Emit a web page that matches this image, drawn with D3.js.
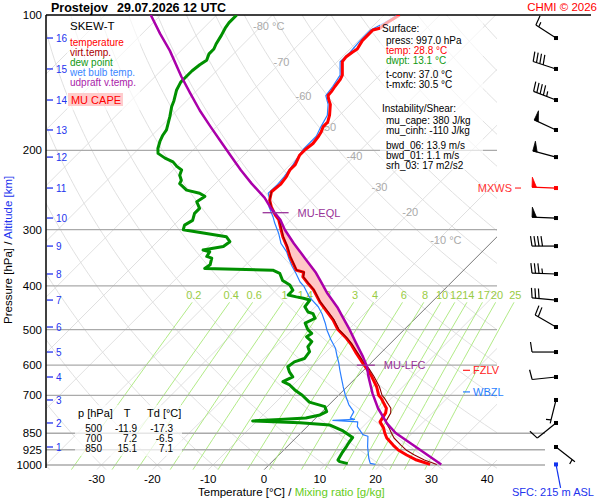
<!DOCTYPE html>
<html><head><meta charset="utf-8">
<script src="https://cdn.jsdelivr.net/npm/d3@7"></script>
<style>body{margin:0;background:#fff;} text{font-family:"Liberation Sans",Arial,Helvetica,sans-serif;}</style>
</head><body><svg id="c" width="600" height="500"></svg>
<script>
// ---------------- DATA ----------------
const stationName = "Prostejov";
const runTime = "29.07.2026 12 UTC";
const pressureTicks = [100,200,300,400,500,600,700,850,925,1000];
const tempTicks = [-30,-20,-10,0,10,20,30,40];
const mixRatios = [0.2,0.4,0.6,1,1.4,2,3,4,6,8,10,12,14,17,20,25];
const isoLabels = [[-80,106],[-70,127],[-60,151],[-50,177],[-40,206],[-30,241],[-20,274],[-10,316]];
const altKm = [1,2,3,4,5,6,7,8,9,10,11,12,13,14,15,16];
const altP  = [912,806.5,717,637.5,561,493.6,430,376.3,326.2,282.6,242.4,206.9,180.1,154.5,131.8,112.5];

const temperature = [[997,28.8],[975,25.6],[950,22.9],[926,20.5],[903,18.7],[871,16.3],[850,15.1],[827,13.9],[802,12.2],[766,11.6],[748,10.9],[711,8.2],[700,7.2],[670,5.3],[636,2.6],[610,0.2],[589,-1.9],[565,-4.3],[541,-6.7],[523,-8.8],[500,-11.9],[476,-14.5],[456,-17.1],[434,-20.1],[408,-23.4],[395,-25.5],[382,-27.6],[373,-28.3],[369,-30.0],[344,-33.6],[327,-35.9],[311,-38.4],[295,-40.7],[285,-42.2],[278,-43.7],[267,-45.8],[258,-47.3],[247,-48.5],[238,-48.2],[229,-48.5],[221,-49.1],[215,-49.1],[205,-50.0],[199,-50.0],[193,-49.7],[186,-50.0],[182,-50.3],[177,-50.9],[173,-50.9],[167,-51.8],[158,-53.6],[154,-54.8],[151,-55.6],[148,-55.7],[144,-56.0],[139,-56.3],[136,-56.7],[127,-59.1],[124,-59.3],[121,-59.0],[119,-58.7],[114,-59.3],[111,-59.3],[108,-59.3],[107,-58.4],[104,-58.1],[100,-57.2]];

const virtTemp = [[997,30.0],[975,27.0],[950,24.3],[926,21.9],[903,20.1],[871,17.6],[850,16.3],[827,14.9],[802,13.2],[766,12.5],[748,11.7],[711,8.8],[700,7.8],[670,5.8],[636,3.0],[610,0.6],[589,-1.6],[565,-4.0],[541,-6.5],[523,-8.6],[500,-11.7],[476,-14.3],[456,-16.9],[434,-20.0],[408,-23.3],[395,-25.4],[382,-27.5],[373,-28.2],[369,-29.9],[344,-33.5],[327,-35.8],[311,-38.3],[295,-40.6],[285,-42.1],[278,-43.6],[267,-45.8],[258,-47.3],[247,-48.5]];

const dewpoint = [[993,13.9],[983,12.1],[975,11.5],[936,10.9],[910,10.6],[889,10.3],[869,10.1],[840,7.2],[815,3.8],[806,-2.0],[798,-10.8],[792,-6.2],[786,-1.8],[774,0.2],[761,0.8],[742,-0.4],[736,-1.6],[725,-4.0],[700,-6.5],[681,-8.8],[664,-10.6],[653,-12.4],[637,-11.5],[621,-13.0],[605,-14.2],[590,-13.9],[580,-12.7],[560,-13.0],[546,-14.2],[532,-14.4],[519,-16.2],[510,-15.9],[500,-17.3],[484,-18.9],[472,-18.0],[461,-19.2],[457,-20.4],[445,-21.9],[430,-22.2],[426,-23.7],[423,-25.2],[419,-27.0],[409,-27.0],[398,-28.5],[389,-30.6],[375,-32.4],[369,-34.2],[366,-46.7],[359,-46.4],[347,-47.3],[344,-48.5],[336,-48.8],[333,-50.3],[330,-48.8],[327,-47.3],[319,-47.0],[311,-48.5],[300,-57.5],[293,-58.1],[286,-57.5],[276,-58.4],[269,-58.4],[260,-60.1],[253,-59.6],[249,-61.1],[245,-64.0],[237,-66.4],[233,-66.7],[227,-67.9],[221,-68.5],[217,-70.0],[212,-71.5],[208,-73.6],[203,-75.7],[198,-76.6],[191,-77.5],[185,-78.1],[180,-78.4],[168,-80.2],[160,-81.6],[155,-82.3],[147,-83.7],[141,-84.4],[137,-84.4],[133,-84.4],[129,-84.1],[126,-83.7],[122,-84.4],[119,-84.4],[116,-84.9],[111,-85.5],[107,-86.1],[104,-86.4],[100,-86.4]];

const wetBulb = [[997,19.0],[992,17.9],[966,16.7],[910,14.4],[863,12.6],[856,11.4],[822,9.0],[802,8.2],[796,3.5],[792,7.2],[787,6.2],[762,5.7],[734,3.5],[698,1.1],[670,-0.7],[642,-2.5],[615,-4.3],[594,-5.7],[574,-7.2],[550,-9.0],[527,-11.3],[501,-13.8],[484,-15.3],[461,-17.6],[445,-19.5],[423,-22.9],[401,-25.7],[392,-27.2],[375,-29.5],[362,-31.4],[347,-33.5],[336,-35.0],[322,-37.5],[306,-39.7],[290,-42.3],[281,-43.7],[267,-46.2],[256,-47.6],[249,-48.8],[238,-48.7],[229,-48.9],[215,-49.5],[199,-50.4],[186,-50.4],[177,-51.3],[167,-52.2],[158,-54.0],[151,-56.0],[144,-56.4],[136,-57.1],[127,-59.5],[121,-59.4],[114,-59.7],[108,-59.7],[104,-58.5],[100,-57.6]];

const parcel = [[997,30.8],[849,17.0],[808,13.7],[748,9.4],[694,5.8],[636,2.0],[605,0.0],[575,-2.5],[536,-6.2],[501,-9.7],[468,-13.4],[446,-16.0],[416,-20.2],[388,-24.0],[374,-26.0],[347,-30.6],[322,-35.2],[300,-39.3],[285,-41.9],[269,-45.6],[255,-48.6],[237,-53.5],[221,-57.9],[205,-62.4],[190,-66.9],[177,-71.1],[163,-75.9],[149,-80.8],[137,-85.3],[120,-92.0],[110,-96.8],[100,-101.8]];

const eqlLevel = [275,-44.0];
const lfcLevel = [600,-0.5];
const fzlvP = 616, wbzlP = 688;

const windP   = [997,912,806.5,717,637.5,561,493.6,430,376.3,326.2,282.6,242.4,206.9,180.1,154.5,131.8,112.5];
const windDir = [169,128,231,194,264,270,300,275,272,270,272,272,285,295,291,288,303];
const windSpd = [2,5,10,5,10,10,20,30,35,40,50,50,50,50,45,40,15];
const maxWindIndex = 11;

const tableP = [500,700,850], tableT = [-11.9,7.2,15.1], tableTd = [-17.3,-6.5,7.1];
const sfc = {press:997.0, temp:28.8, dwpt:13.1, tconv:37.0, tmxfc:30.5, cape:380, cinh:-110, bwd06:13.9, bwd01:1.1, srh03:17, elev:215};

// ---------------- SCALES ----------------
const svg = d3.select('#c');
const y = d3.scaleLog().domain([100,1000]).range([15,465]);
const t = d3.scaleLinear().domain([0,10]).range([264,319.8]);
const pBot = 1025, yBot = y(pBot);
const sx = (T,p) => t(T) + (yBot - y(p));
const FONT = '"Liberation Sans",Arial,Helvetica,sans-serif';

const defs = svg.append('defs');
defs.append('clipPath').attr('id','pc').append('rect').attr('x',46).attr('y',15).attr('width',451).attr('height',yBot-15);
defs.append('clipPath').attr('id','mc').append('rect').attr('x',46).attr('y',15).attr('width',530).attr('height',yBot-15);
defs.append('clipPath').attr('id','prc').append('rect').attr('x',46).attr('y',15).attr('width',500).attr('height',yBot-15);

svg.append('rect').attr('width',600).attr('height',500).attr('fill','#fff');

function txt(g,x,yy,s,o={}){
  return g.append('text').attr('x',x).attr('y',yy).text(s)
    .attr('font-size',o.size||11).attr('fill',o.color||'#000')
    .attr('text-anchor',o.anchor||'start').attr('font-weight',o.weight||'normal')
    .style('font-family',FONT);
}

// ---------------- GRID ----------------
const grid = svg.append('g').attr('clip-path','url(#pc)');
const logP = d3.range(0,101).map(i => Math.exp(Math.log(100) + i/100*(Math.log(pBot)-Math.log(100))));
const line = d3.line().x(d=>sx(d[1],d[0])).y(d=>y(d[0]));
for (let th=-40; th<=260; th+=10){
  const pts = logP.map(p => [p, (th+273.15)*Math.pow(p/1000,0.2857)-273.15]);
  grid.append('path').attr('d',line(pts)).attr('fill','none').attr('stroke','#dcdcdc').attr('stroke-width',0.9);
}
for (let T=-170; T<=40; T+=10){
  grid.append('line').attr('x1',sx(T,pBot)).attr('y1',yBot).attr('x2',sx(T,100)).attr('y2',15)
    .attr('stroke', T===0 ? '#555' : '#dcdcdc').attr('stroke-width', T===0?0.8:0.9);
}
const mixG = svg.append('g').attr('clip-path','url(#mc)');
function tFromW(w,p){ const e=w*p/(622+w); const l=Math.log(e/6.112); return 243.5*l/(17.67-l); }
mixRatios.forEach(w=>{
  const pts = d3.range(0,21).map(i=>{ const p = 435 + i*(pBot-435)/20; return [p, tFromW(w,p)]; });
  mixG.append('path').attr('d',line(pts)).attr('fill','none').attr('stroke','#a8e878').attr('stroke-width',0.9);
  txt(svg, sx(tFromW(w,430),430), 299, String(w), {color:'#99cc44', anchor:'middle', size:11});
});
isoLabels.forEach(([T,p])=>{
  const xx = sx(T,p), yy = y(p)+4;
  txt(svg, xx, yy, String(T), {color:'#aaa', anchor:'middle', size:11});
  if (T===-80 || T===-10) txt(svg, xx+11, yy, '°C', {color:'#aaa', size:11});
});
pressureTicks.forEach(p=>{
  const yy = y(p);
  if (p===100){
    svg.append('line').attr('x1',46).attr('x2',591).attr('y1',yy).attr('y2',yy).attr('stroke','#000').attr('stroke-width',1.3);
  } else {
    svg.append('line').attr('x1',46).attr('x2',p>=850?545:497).attr('y1',yy).attr('y2',yy).attr('stroke','#aaa').attr('stroke-width',1.3);
  }
  txt(svg, 42, yy+4, String(p), {anchor:'end', size:11.5});
});
svg.append('line').attr('x1',46).attr('x2',46).attr('y1',15).attr('y2',468).attr('stroke','#000').attr('stroke-width',1.5);
altKm.forEach((k,i)=>{
  const yy = y(altP[i]);
  svg.append('line').attr('x1',47).attr('x2',53).attr('y1',yy).attr('y2',yy).attr('stroke','#2233ee').attr('stroke-width',1.3);
  txt(svg, 56, yy+4, String(k), {color:'#2233ee', size:10});
});
tempTicks.forEach(T=> txt(svg, t(T), 483, String(T), {anchor:'middle', size:11.5}));

// ---------------- CAPE ----------------
function interp(arr){ return d3.scaleLinear().domain(arr.map(d=>Math.log(d[0]))).range(arr.map(d=>d[1])); }
const tvI = interp(virtTemp), tpI = interp(parcel);
const capeP = d3.range(0,301).map(i => Math.exp(Math.log(620) + i/300*(Math.log(260)-Math.log(620))));
const capeData = capeP.map(p=>({p, tv:tvI(Math.log(p)), tp:tpI(Math.log(p))}));
const area = d3.area().defined(d=>d.tp>=d.tv).y(d=>y(d.p)).x0(d=>sx(d.tv,d.p)).x1(d=>sx(d.tp,d.p));
svg.append('path').attr('d',area(capeData)).attr('fill','#ffc6c6').attr('clip-path','url(#prc)');

// ---------------- PROFILES ----------------
const prof = svg.append('g').attr('clip-path','url(#prc)');
const pl = (data,color,w) => prof.append('path').attr('d',line(data)).attr('fill','none').attr('stroke',color).attr('stroke-width',w).attr('stroke-linejoin','round');
pl(dewpoint,'#009000',3);
pl(wetBulb,'#2a7fff',1.2);
pl(temperature,'#ff0000',3);
pl(virtTemp,'#8b0000',1.1);
pl(parcel,'#aa00aa',2.5);

[[eqlLevel,'MU-EQL',13],[lfcLevel,'MU-LFC',9]].forEach(([lv,lab,hw])=>{
  const xx = sx(lv[1],lv[0]), yy = y(lv[0]);
  svg.append('line').attr('x1',xx-hw).attr('x2',xx+hw).attr('y1',yy).attr('y2',yy).attr('stroke','#993399').attr('stroke-width',1.3);
  txt(svg, xx+hw+9, yy+4, lab, {color:'#993399', size:11});
});
[[fzlvP,'FZLV','#ff2222'],[wbzlP,'WBZL','#2a7fff']].forEach(([p,lab,c])=>{
  const yy=y(p);
  svg.append('line').attr('x1',463).attr('x2',470).attr('y1',yy).attr('y2',yy).attr('stroke',c).attr('stroke-width',1.2);
  txt(svg, 473, yy+4, lab, {color:c, size:11});
});

// ---------------- BOXES ----------------
svg.append('rect').attr('x',67).attr('y',16).attr('width',73).attr('height',94).attr('fill','#fff').attr('opacity',0.65);
txt(svg,70,30,'SKEW-T',{size:11.5});
[['temperature','#ff0000'],['virt.temp.','#aa0000'],['dew point','#119911'],['wet bulb temp.','#3a86ff'],['udpraft v.temp.','#aa22aa']]
  .forEach(([s,c],i)=>txt(svg,70,45.5+i*10,s,{color:c,size:10}));
svg.append('rect').attr('x',68).attr('y',93).attr('width',55).attr('height',13).attr('fill','#ffcccc');
txt(svg,96,104,'MU CAPE',{color:'#ff0000',anchor:'middle',size:11});

svg.append('rect').attr('x',380).attr('y',16).attr('width',103).attr('height',154).attr('fill','#fff').attr('opacity',0.65);
const sl = [
  [382,28,'Surface:','#000'],
  [386,40,`press: ${sfc.press.toFixed(1)} hPa`,'#000'],
  [386,50,`temp: ${sfc.temp.toFixed(1)} °C`,'#ff0000'],
  [386,60,`dwpt: ${sfc.dwpt.toFixed(1)} °C`,'#119911'],
  [386,74,`t-conv: ${sfc.tconv.toFixed(1)} °C`,'#000'],
  [386,84,`t-mxfc: ${sfc.tmxfc.toFixed(1)} °C`,'#000'],
  [382,108,'Instability/Shear:','#000'],
  [386,120,`mu_cape: ${sfc.cape} J/kg`,'#000'],
  [386,130,`mu_cinh: ${sfc.cinh} J/kg`,'#000'],
  [386,145,`bwd_06: ${sfc.bwd06.toFixed(1)} m/s`,'#000'],
  [386,155,`bwd_01: ${sfc.bwd01.toFixed(1)} m/s`,'#000'],
  [386,165,`srh_03: ${sfc.srh03} m2/s2`,'#000']];
sl.forEach(([x,yy,s,c])=>txt(svg,x,yy+3.5,s,{color:c,size:10}));

svg.append('rect').attr('x',75).attr('y',405).attr('width',107).attr('height',51).attr('fill','#fff').attr('opacity',0.7);
txt(svg,78,417,'p [hPa]',{size:11});
txt(svg,127,417,'T',{size:11,anchor:'middle'});
txt(svg,147,417,'Td [°C]',{size:11});
tableP.forEach((p,i)=>{
  const yy = 431.5+i*10;
  txt(svg,102,yy,String(p),{size:10,anchor:'end'});
  txt(svg,137,yy,tableT[i].toFixed(1),{size:10,anchor:'end'});
  txt(svg,173,yy,tableTd[i].toFixed(1),{size:10,anchor:'end'});
});

// ---------------- WIND BARBS ----------------
const wg = svg.append('g');
function barb(cx,cy,dir,spd,color){
  const L=24, r=dir*Math.PI/180;
  const ux=Math.sin(r), uy=-Math.cos(r), vx=Math.cos(r), vy=Math.sin(r);
  const ex=cx+ux*L, ey=cy+uy*L;
  wg.append('line').attr('x1',cx).attr('y1',cy).attr('x2',ex).attr('y2',ey).attr('stroke',color).attr('stroke-width',1.2);
  wg.append('rect').attr('x',cx-2).attr('y',cy-2).attr('width',4).attr('height',4).attr('fill',color);
  let s=Math.round(spd/5)*5; const flags=Math.floor(s/50); s-=flags*50; const full=Math.floor(s/10); s-=full*10; const half=s>=5;
  let pos=0; const step=3.5;
  for(let i=0;i<flags;i++){
    const px=ex-ux*pos, py=ey-uy*pos;
    const pts=[[px,py],[px-ux*4.5,py-uy*4.5],[px+vx*10,py+vy*10]];
    wg.append('polygon').attr('points',pts.map(d=>d.join(',')).join(' ')).attr('fill',color).attr('stroke',color).attr('stroke-width',0.8);
    pos+=6;
  }
  for(let i=0;i<full;i++){
    const px=ex-ux*pos, py=ey-uy*pos;
    wg.append('line').attr('x1',px).attr('y1',py).attr('x2',px+vx*10+ux*1.5).attr('y2',py+vy*10+uy*1.5).attr('stroke',color).attr('stroke-width',1.2);
    pos+=step;
  }
  if(half){
    if(pos===0) pos=step;
    const px=ex-ux*pos, py=ey-uy*pos;
    wg.append('line').attr('x1',px).attr('y1',py).attr('x2',px+vx*5+ux*0.8).attr('y2',py+vy*5+uy*0.8).attr('stroke',color).attr('stroke-width',1.2);
  }
}
windP.forEach((p,i)=>{
  const c = i===0 ? '#1133ee' : (i===maxWindIndex ? '#ff0000' : '#000');
  barb(556, y(p), windDir[i], windSpd[i], c);
});
const ymx = y(windP[maxWindIndex]);
txt(svg,512,ymx+4,'MXWS',{color:'#ff3333',anchor:'end',size:11});
svg.append('line').attr('x1',515).attr('x2',521).attr('y1',ymx).attr('y2',ymx).attr('stroke','#ff3333').attr('stroke-width',1.2);
txt(svg,512,496,`SFC: ${sfc.elev} m ASL`,{color:'#2233ee',size:11});

// ---------------- TITLES ----------------
txt(svg,51,12,stationName,{weight:'bold',size:12.5});
txt(svg,117,12,runTime,{weight:'bold',size:12.5});
txt(svg,597,11,'CHMI © 2026',{color:'#ff0000',anchor:'end',size:11.5});
const xl = svg.append('text').attr('x',198).attr('y',496).attr('font-size',11.5).style('font-family',FONT);
xl.append('tspan').text('Temperature [°C]  /  ').attr('fill','#000');
xl.append('tspan').text('Mixing ratio [g/kg]').attr('fill','#66cc22');
const yl = svg.append('text').attr('transform','translate(12,324) rotate(-90)').attr('font-size',11.5).style('font-family',FONT);
yl.append('tspan').text('Pressure [hPa]  /  ').attr('fill','#000');
yl.append('tspan').text('Altitude [km]').attr('fill','#2233ee');
</script>
</body></html>
